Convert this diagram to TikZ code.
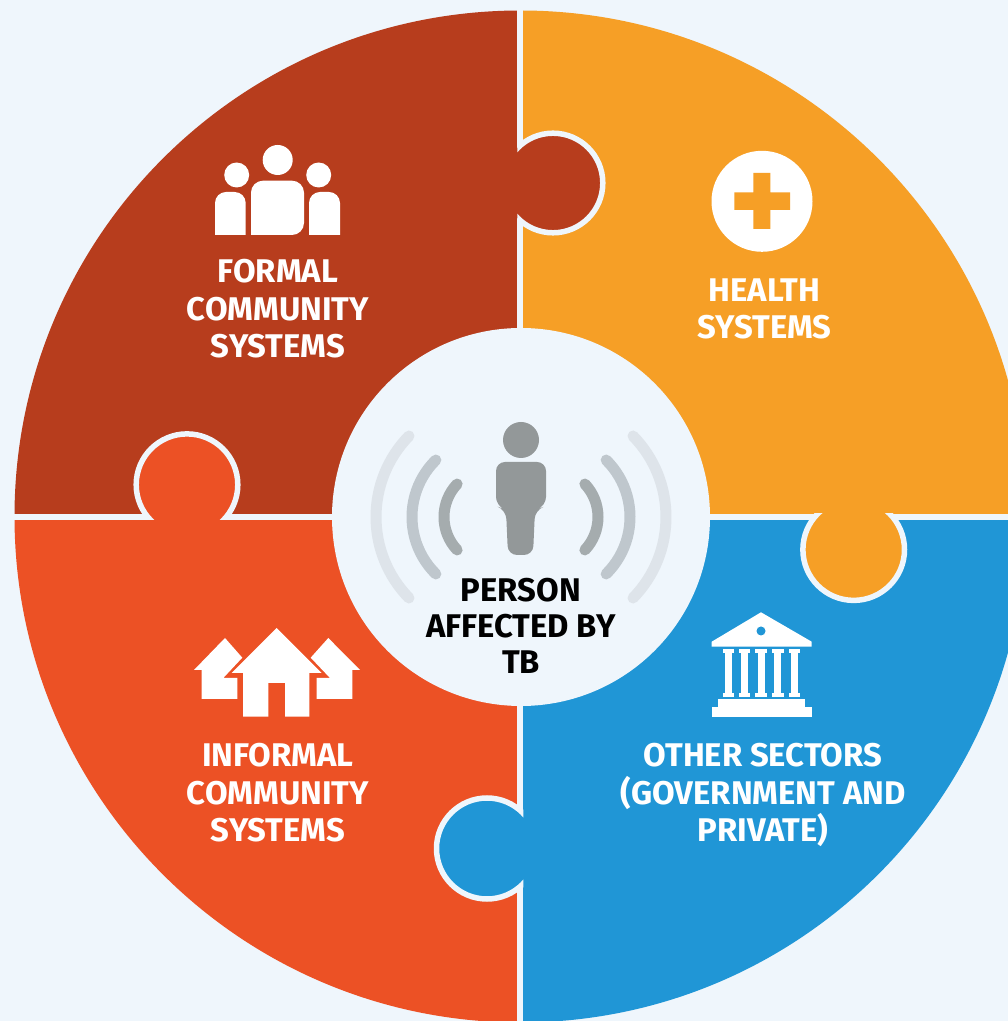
\documentclass[tikz,border=0pt]{standalone}
\usepackage{fontspec}
\setmainfont{Fira Sans}
\definecolor{bgc}{HTML}{EFF6FC}
\definecolor{rust}{HTML}{B73D1D}
\definecolor{amber}{HTML}{F69F26}
\definecolor{flame}{HTML}{EC5125}
\definecolor{skyb}{HTML}{2096D6}
\definecolor{person}{HTML}{939899}
\definecolor{wavea}{HTML}{A5ACAE}
\definecolor{waveb}{HTML}{BFC7CD}
\definecolor{wavec}{HTML}{DEE4EA}
\tikzset{
 ring/.style={draw=bgc,line width=5.5pt},
 sep/.style={draw=bgc,line width=6pt},
 lab/.style={align=center,text=white,font=\fontsize{32.8}{37.5}\selectfont\bfseries,inner sep=0pt},
 wave/.style={line width=11pt,line cap=round},
 icon/.style={fill=white,draw=none}
}
\begin{document}
\begin{tikzpicture}[x=1pt,y=1pt]
\useasboundingbox (0,0) rectangle (1008,1021);
\clip (0,0) rectangle (1008,1021);
\fill[bgc] (0,0) rectangle (1008,1021);
% quadrants
\begin{scope}
 \clip (520.5,504.5) circle (506);
 \fill[rust] (0,504) rectangle (520,1021);
 \fill[amber] (520,504) rectangle (1040,1021);
 \fill[flame] (0,0) rectangle (520,504);
 \fill[skyb] (520,0) rectangle (1040,504);
\end{scope}
% separators
\draw[sep] (520.3,0) -- (520.3,1012);
\draw[sep] (14,504) -- (1008,504);
% puzzle tabs
\fill[rust] (553,838) circle (50);
\begin{scope}
 \clip (517.3,700) rectangle (700,1000);
 \draw[ring] (553,838) circle (49.8);
\end{scope}
\fill[flame] (187,536.3) circle (50.5);
\begin{scope}
 \clip (50,501) rectangle (300,700);
 \draw[ring] (187,536.3) circle (50.8);
\end{scope}
\fill[amber] (853.7,471.4) circle (50.5);
\begin{scope}
 \clip (700,300) rectangle (1008,507);
 \draw[ring] (853.7,471.4) circle (50.8);
\end{scope}
\fill[skyb] (487,172.5) circle (50.5);
\begin{scope}
 \clip (300,50) rectangle (523.3,300);
 \draw[ring] (487,172.5) circle (50.5);
\end{scope}
% centre
\fill[bgc] (521,504) circle (189);
\fill[person] (521,581) circle (18);
\fill[person,rounded corners=9pt] (496,559) -- (546,559) -- (546,515) -- (535,511) -- (533,466) -- (508,466) -- (506,511) -- (496,515) -- cycle;
% waves
\foreach \r/\a/\c in {48/43.4/wavea,80/45.4/waveb,116/44.3/wavec}{
 \draw[wave,draw=\c] (492,504) ++(180-\a:\r) arc[start angle=180-\a,end angle=180+\a,radius=\r];
 \draw[wave,draw=\c] (550,504) ++(\a:\r) arc[start angle=\a,end angle=-\a,radius=\r];
}
% people icon
\fill[icon] (277.7,861) circle (15);
\fill[icon] (236.7,846) circle (12.5);
\fill[icon] (318.7,846) circle (12.5);
\fill[icon,rounded corners=12pt] (251,786) -- (251,840.3) -- (304,840.3) -- (304,786) [sharp corners] -- cycle;
\fill[icon,rounded corners=11pt] (215,786) -- (215,829) -- (245.7,829) [sharp corners] -- (245.7,786) -- cycle;
\fill[icon,rounded corners=11pt] (340,786) -- (340,829) -- (309,829) [sharp corners] -- (309,786) -- cycle;
% houses icon
\fill[icon] (225,383) -- (194,351) -- (201.7,351) -- (201.7,322) -- (237.3,322) -- (237.3,343) -- (223.3,343) -- (242.3,363.3) -- cycle;
\fill[icon] (328.3,383) -- (360,351) -- (352.3,351) -- (352.3,322) -- (316.7,322) -- (316.7,343) -- (330,343) -- (310.7,363.3) -- cycle;
\fill[icon] (276.7,393) -- (231.7,348) -- (243,348) -- (243,304.3) -- (268.3,304.3) -- (268.3,338) -- (285,338) -- (285,304.3) -- (309.3,304.3) -- (309.3,348) -- (321.7,348) -- cycle;
% health icon
\fill[icon] (762,819.7) circle (50.5);
\fill[amber] (753.3,848) -- (770.3,848) -- (770.3,828.5) -- (790,828.5) -- (790,811) -- (770.3,811) -- (770.3,792) -- (753.3,792) -- (753.3,811) -- (734.3,811) -- (734.3,828.5) -- (753.3,828.5) -- cycle;
% building icon
\fill[icon] (761,408.7) -- (711.7,379.3) -- (711.7,374.3) -- (811.7,374.3) -- (811.7,379.3) -- cycle;
\fill[skyb] (761,390) circle (4.5);
\foreach \x in {728.3,744.3,761,777.7,794.3}{
 \fill[icon] (\x-3.5,325) rectangle (\x+3.5,370);
 \fill[icon] (\x-5.8,368) rectangle (\x+5.8,371.7);
 \fill[icon] (\x-5.8,324) rectangle (\x+5.8,328);
}
\fill[icon] (718.3,314.3) rectangle (805,321.7);
\fill[icon] (711.7,304.3) rectangle (811.7,314.3);
% labels
\node[lab] (formal) at (278,712) {FORMAL\\COMMUNITY\\SYSTEMS};
\node[lab] (health) at (764.5,712) {HEALTH\\SYSTEMS};
\node[lab] (informal) at (278,228) {INFORMAL\\COMMUNITY\\SYSTEMS};
\node[lab] (other) at (763,226) {OTHER SECTORS\\(GOVERNMENT AND\\PRIVATE)};
\node[lab,text=black,font=\fontsize{32.8}{36}\selectfont\bfseries] (centre) at (521,395.5) {PERSON\\AFFECTED BY\\TB};
\end{tikzpicture}
\end{document}
